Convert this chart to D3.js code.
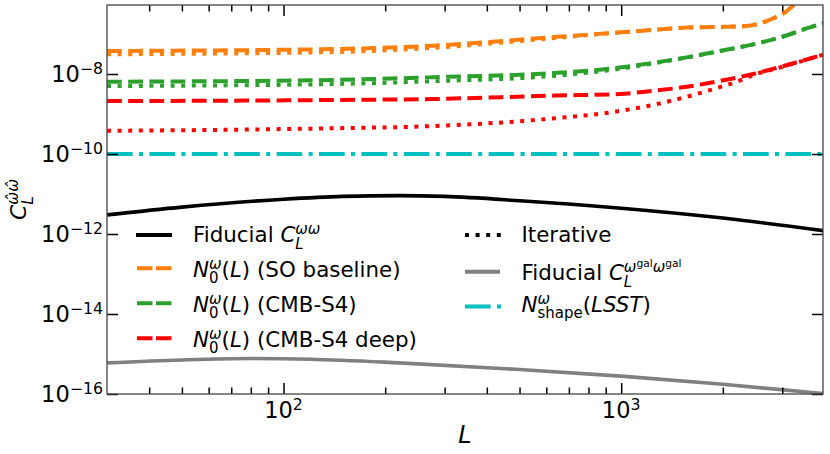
<!DOCTYPE html>
<html><head><meta charset="utf-8">
<script src="https://cdn.jsdelivr.net/npm/d3@7"></script>
<style>
body{margin:0;background:#fff}
svg{display:block}
text{font-family:"DejaVu Sans",sans-serif;fill:#000}
</style>
</head><body>
<svg id="c" width="830" height="454"></svg>
<script>
// ---------- data ----------
const fidL = [30, 50, 100, 150, 220, 300, 500, 1000, 2000, 4000];
const fidV = [3.0e-12, 4.7e-12, 7.4e-12, 8.7e-12, 9.1e-12, 8.7e-12, 6.8e-12, 4.4e-12, 2.5e-12, 1.2e-12];

const galL = [30, 50, 80, 120, 220, 500, 1000, 2000, 4000];
const galV = [6.0e-16, 7.1e-16, 7.7e-16, 7.4e-16, 6.0e-16, 4.1e-16, 2.8e-16, 1.75e-16, 1.02e-16];

const soL = [30, 140, 277, 645, 991, 1241, 1564, 1960, 2350, 2575, 2890, 3100, 3240, 3500];
const soV = [3.76e-8, 4.2e-8, 5.1e-8, 8.5e-8, 1.1e-7, 1.26e-7, 1.45e-7, 1.5e-7, 1.58e-7, 1.86e-7, 2.7e-7, 3.8e-7, 5.3e-7, 1.0e-6];
const soItL = [30, 140, 277, 500, 991, 1564, 2350, 2575, 2890, 3100, 3240, 3500];
const soItV = [3.12e-8, 3.53e-8, 4.5e-8, 6.65e-8, 1.09e-7, 1.44e-7, 1.57e-7, 1.85e-7, 2.7e-7, 3.8e-7, 5.3e-7, 1.0e-6];

const s4L = [30, 140, 277, 645, 991, 1241, 1564, 1960, 2460, 3100, 3470, 4000];
const s4V = [6.4e-9, 7.1e-9, 8.3e-9, 1.07e-8, 1.45e-8, 1.9e-8, 2.6e-8, 3.76e-8, 5.5e-8, 9.3e-8, 1.3e-7, 1.9e-7];
const s4ItL = [30, 140, 277, 645, 991, 1241, 1564, 1960, 2460, 3100, 3470, 4000];
const s4ItV = [5.0e-9, 5.6e-9, 6.6e-9, 9.1e-9, 1.35e-8, 1.83e-8, 2.58e-8, 3.74e-8, 5.5e-8, 9.3e-8, 1.3e-7, 1.9e-7];

const deepL = [30, 140, 277, 645, 991, 1241, 1564, 1960, 2460, 3100, 4000];
const deepV = [2.1e-9, 2.24e-9, 2.37e-9, 2.9e-9, 3.16e-9, 3.8e-9, 4.8e-9, 6.7e-9, 1.0e-8, 1.68e-8, 3.1e-8];
const deepItL = [30, 140, 277, 602, 991, 1241, 1564, 1960, 2200, 2460, 2950, 4000];
const deepItV = [3.8e-10, 4.4e-10, 5.0e-10, 7.5e-10, 1.19e-9, 1.68e-9, 2.7e-9, 4.7e-9, 6.4e-9, 9.4e-9, 1.45e-8, 3.1e-8];

const shapeL = [30, 4000];
const shapeV = [1e-10, 1e-10];

const xMajor = [100, 1000];
const xMajorExp = ["2", "3"];
const xMinor = [40, 50, 60, 70, 80, 90, 200, 300, 400, 500, 600, 700, 800, 900, 2000, 3000];
const yMajor = [1e-16, 1e-14, 1e-12, 1e-10, 1e-8];
const yMajorExp = ["\u221216", "\u221214", "\u221212", "\u221210", "\u22128"];

// ---------- layout ----------
const svg = d3.select("#c");
const M = {l: 107, r: 823, t: 5, b: 394};
const x = d3.scaleLog().domain([30, 3960]).range([M.l, M.r]);
const y = d3.scaleLog().domain([1e-16, Math.pow(10, -6.275)]).range([M.b, M.t]);

const DASH = "14.8,6.4", DOT = "4,6.6", DASHDOT = "25.6,6.4,4,6.4";
const ORANGE = "#ff7f0e", GREEN = "#2ca02c", RED = "#ff0000", CYAN = "#00bfbf", GRAY = "#808080";

svg.append("defs").append("clipPath").attr("id", "clip")
  .append("rect").attr("x", M.l).attr("y", M.t).attr("width", M.r - M.l).attr("height", M.b - M.t);

// mathtext helper
function mtext(parent, parts, base) {
  const g = parent.append("g");
  let lastEnd = 0, maxEnd = 0, prevStart = 0;
  parts.forEach(p => {
    const l = p.l || 0;
    const sc = l === 0 ? 1 : (l === 2 ? 0.5 : 0.7);
    const dy = l === 1 ? -0.36 * base : l === -1 ? 0.31 * base : l === 2 ? -0.62 * base : 0;
    let sx = p.stack ? prevStart : (l === 0 ? maxEnd : lastEnd);
    const t = g.append("text").attr("x", sx).attr("y", dy)
      .attr("font-size", base * sc).text(p.t);
    if (p.it) t.attr("font-style", "italic");
    const w = t.node().getComputedTextLength();
    prevStart = sx;
    lastEnd = sx + w;
    maxEnd = Math.max(maxEnd, lastEnd);
  });
  return {g, width: maxEnd};
}
function place(parent, parts, base, px, py, anchor) {
  const r = mtext(parent, parts, base);
  let dx = anchor === "end" ? -r.width : anchor === "middle" ? -r.width / 2 : 0;
  r.g.attr("transform", `translate(${px + dx},${py})`);
  return r;
}

// ---------- lines ----------
const line = d3.line().x(d => x(d[0])).y(d => y(d[1])).curve(d3.curveMonotoneX);
const plot = svg.append("g").attr("clip-path", "url(#clip)");
function draw(L, V, color, width, dash) {
  const p = plot.append("path").datum(L.map((l, i) => [l, V[i]]))
    .attr("d", line).attr("fill", "none").attr("stroke", color)
    .attr("stroke-width", width).attr("stroke-linejoin", "round");
  if (dash) p.attr("stroke-dasharray", dash);
}
draw(fidL, fidV, "#000", 3.6);
draw(soL, soV, ORANGE, 4, DASH);
draw(s4L, s4V, GREEN, 4, DASH);
draw(deepL, deepV, RED, 4, DASH);
draw(soItL, soItV, ORANGE, 4, DOT);
draw(s4ItL, s4ItV, GREEN, 4, DOT);
draw(deepItL, deepItV, RED, 4, DOT);
draw(galL, galV, GRAY, 3.6);
draw(shapeL, shapeV, CYAN, 4, DASHDOT);

// ---------- axes ----------
function styleAxis(g) {
  g.select(".domain").remove();
  g.selectAll(".tick line").attr("stroke", "#000").attr("stroke-width", 1.5);
  g.selectAll(".tick text").remove();
}
svg.append("g").attr("transform", `translate(0,${M.b})`)
  .call(d3.axisBottom(x).tickValues(xMajor).tickSize(-11).tickFormat("")).call(styleAxis);
svg.append("g").attr("transform", `translate(0,${M.b})`)
  .call(d3.axisBottom(x).tickValues(xMinor).tickSize(-6.5).tickFormat("")).call(styleAxis);
svg.append("g").attr("transform", `translate(0,${M.t})`)
  .call(d3.axisTop(x).tickValues(xMajor).tickSize(-11).tickFormat("")).call(styleAxis);
svg.append("g").attr("transform", `translate(0,${M.t})`)
  .call(d3.axisTop(x).tickValues(xMinor).tickSize(-6.5).tickFormat("")).call(styleAxis);
svg.append("g").attr("transform", `translate(${M.l},0)`)
  .call(d3.axisLeft(y).tickValues(yMajor).tickSize(-11).tickFormat("")).call(styleAxis);
svg.append("g").attr("transform", `translate(${M.r},0)`)
  .call(d3.axisRight(y).tickValues(yMajor).tickSize(-11).tickFormat("")).call(styleAxis);

svg.append("rect").attr("x", M.l).attr("y", M.t).attr("width", M.r - M.l).attr("height", M.b - M.t)
  .attr("fill", "none").attr("stroke", "#444").attr("stroke-width", 1.3);

// tick labels
const TF = 22.5;
xMajor.forEach((v, i) => place(svg, [{t: "10"}, {t: xMajorExp[i], l: 1}], TF, x(v), 418, "middle"));
yMajor.forEach((v, i) => place(svg, [{t: "10"}, {t: yMajorExp[i], l: 1}], TF, 103, y(v) + 8.2, "end"));

// axis labels
place(svg, [{t: "L", it: true}], 24, (M.l + M.r) / 2, 443, "middle");
{
  const r = mtext(svg, [{t: "C", it: true}, {t: "L", it: true, l: -1}, {t: "\u03c9\u0302\u03c9\u0302", it: true, l: 1, stack: true}], 22);
  r.g.attr("transform", `translate(26,${(M.t + M.b) / 2 + r.width / 2}) rotate(-90)`);
}

// ---------- legend ----------
const LF = 21.4;
const leg = svg.append("g");
function handle(x1, x2, yy, color, w, dash) {
  const l = leg.append("line").attr("x1", x1).attr("x2", x2).attr("y1", yy).attr("y2", yy)
    .attr("stroke", color).attr("stroke-width", w);
  if (dash) l.attr("stroke-dasharray", dash);
}
const N0 = [{t: "N", it: true}, {t: "0", l: -1}, {t: "\u03c9", it: true, l: 1, stack: true}, {t: "("}, {t: "L", it: true}, {t: ")"}];
// column 1
handle(136, 172, 235, "#000", 4);
place(leg, [{t: "Fiducial\u00a0"}, {t: "C", it: true}, {t: "L", it: true, l: -1}, {t: "\u03c9\u03c9", it: true, l: 1, stack: true}], LF, 193, 242, "start");
handle(137, 172, 268.3, ORANGE, 4, "15.5,3.5");
place(leg, N0.concat([{t: "\u00a0(SO baseline)"}]), LF, 193, 276.7, "start");
handle(137, 172, 303.3, GREEN, 4, "15.5,3.5");
place(leg, N0.concat([{t: "\u00a0(CMB-S4)"}]), LF, 193, 311.7, "start");
handle(137, 172, 338.3, RED, 4, "15.5,3.5");
place(leg, N0.concat([{t: "\u00a0(CMB-S4 deep)"}]), LF, 193, 346.7, "start");
// column 2
handle(465, 501, 235, "#000", 4, DOT);
place(leg, [{t: "Iterative"}], LF, 521.5, 242, "start");
handle(465, 500, 271.7, GRAY, 4);
place(leg, [{t: "Fiducial\u00a0"}, {t: "C", it: true}, {t: "L", it: true, l: -1},
  {t: "\u03c9", it: true, l: 1, stack: true}, {t: "gal", l: 2}, {t: "\u03c9", it: true, l: 1}, {t: "gal", l: 2}], LF, 521.5, 280, "start");
handle(465, 501, 306.5, CYAN, 4, DASHDOT);
place(leg, [{t: "N", it: true}, {t: "shape", l: -1}, {t: "\u03c9", it: true, l: 1, stack: true},
  {t: "("}, {t: "LSST", it: true}, {t: ")"}], LF, 521.5, 311.7, "start");
</script>
</body></html>
